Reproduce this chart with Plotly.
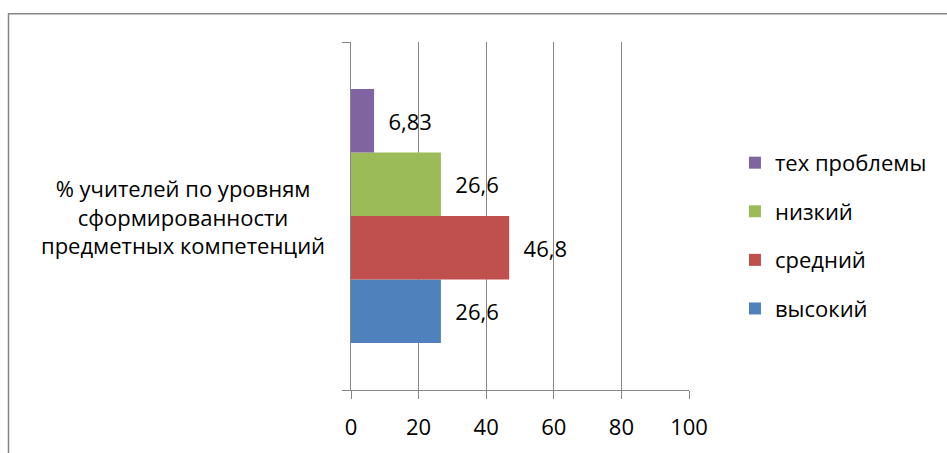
import plotly.graph_objects as go

category = "% учителей по уровням<br>сформированности<br>предметных компетенций"
series_names = ["высокий", "средний", "низкий", "тех проблемы"]
series_values = [26.6, 46.8, 26.6, 6.83]
series_colors = ["#4F81BD", "#C0504D", "#9BBB59", "#8064A2"]
x_ticks = [0, 20, 40, 60, 80, 100]

FONT = "Open Sans"
FS = 22
GRID = "#868686"

fig = go.Figure()
for i, (name, val, col) in enumerate(zip(series_names, series_values, series_colors)):
    label = ("%g" % val).replace(".", ",")
    fig.add_trace(go.Bar(
        y=[category], x=[val], name=name, orientation="h",
        marker=dict(color=col, line=dict(width=0)),
        text=["\u00a0\u00a0" + label], textposition="outside",
        textfont=dict(family=FONT, size=FS, color="#000000"),
        cliponaxis=False, legendgroup=name,
        # top legend entry is the topmost bar
        legendrank=len(series_names) - i,
    ))

fig.update_layout(
    width=947, height=453, autosize=False,
    margin=dict(l=351, r=258, t=42, b=61),
    paper_bgcolor="white", plot_bgcolor="white",
    barmode="group", bargap=0.27, bargroupgap=0,
    font=dict(family=FONT, size=FS, color="#000000"),
    showlegend=True,
    legend=dict(
        x=1.136, xanchor="left", y=0.713, yanchor="top",
        traceorder="grouped", tracegroupgap=17,
        font=dict(family=FONT, size=FS, color="#000000"),
        bgcolor="rgba(0,0,0,0)",
    ),
    xaxis=dict(
        range=[0, 100], tickvals=x_ticks,
        showgrid=True, gridcolor=GRID, gridwidth=1,
        showline=True, linecolor=GRID, linewidth=1,
        ticks="outside", ticklen=8, tickcolor=GRID, tickwidth=1,
        ticklabelstandoff=10,
        tickfont=dict(family=FONT, size=FS, color="#000000"),
        zeroline=False, fixedrange=True,
    ),
    yaxis=dict(
        type="category", tickson="boundaries", range=[-0.5, 0.5],
        showline=True, linecolor=GRID, linewidth=1,
        ticks="outside", ticklen=8, tickcolor=GRID, tickwidth=1,
        showticklabels=False, showgrid=False, zeroline=False,
    ),
)

# category caption to the left of the bars
fig.add_annotation(
    x=-0.497, xref="paper", y=category, yref="y",
    text=category, showarrow=False, align="center",
    xanchor="center", yanchor="middle",
    font=dict(family=FONT, size=FS, color="#000000"),
)

# chart frame
fig.add_shape(
    type="rect", xref="paper", yref="paper",
    x0=-1.0133, x1=3, y0=-1, y1=1.0814,
    line=dict(color=GRID, width=1.5), fillcolor="rgba(0,0,0,0)",
    layer="below",
)

fig.write_html("out.html")
